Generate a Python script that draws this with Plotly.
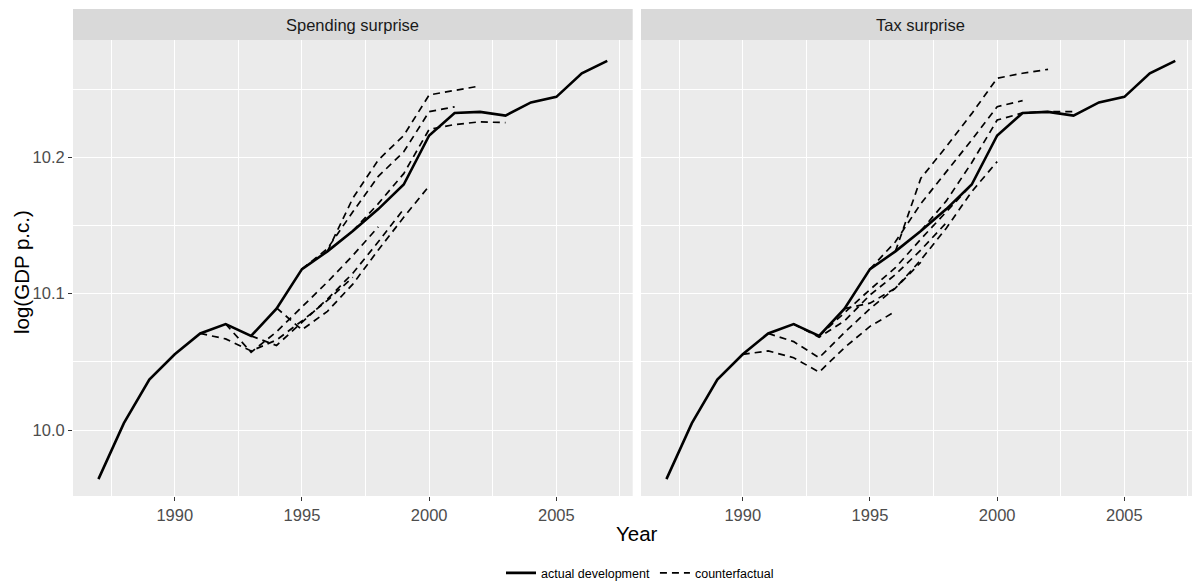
import plotly.graph_objects as go

# ---------------- data ----------------
years_actual = list(range(1987, 2008))
gdp_actual = [9.964, 10.005, 10.037, 10.0555, 10.0708, 10.0777, 10.069, 10.089,
              10.118, 10.131, 10.146, 10.162, 10.180, 10.216, 10.2325, 10.2333,
              10.2306, 10.2402, 10.2443, 10.2615, 10.2707]

# Spending surprise counterfactuals (value per year, starting at the shock year)
spend_cf_1991 = [10.0708, 10.0668, 10.0580, 10.0660, 10.0800, 10.0950, 10.1120]
spend_cf_1992 = [10.0777, 10.0570, 10.0720, 10.0905, 10.1085, 10.1280, 10.1490]
spend_cf_1993 = [10.0690, 10.0620, 10.0790, 10.0960, 10.1150, 10.1380, 10.1620]
spend_cf_1994 = [10.0895, 10.0735, 10.0870, 10.1070, 10.1320, 10.1560, 10.1790]
spend_cf_1995 = [10.1180, 10.1330, 10.1600, 10.1860, 10.2040, 10.2335, 10.2370]
spend_cf_1996 = [10.1310, 10.1700, 10.1980, 10.2160, 10.2457, 10.2490, 10.2523]
spend_cf_1997 = [10.1460, 10.1660, 10.1880, 10.2205, 10.2240, 10.2260, 10.2254]
spend_cf_starts = [1991, 1992, 1993, 1994, 1995, 1996, 1997]
spend_cf = [spend_cf_1991, spend_cf_1992, spend_cf_1993, spend_cf_1994,
            spend_cf_1995, spend_cf_1996, spend_cf_1997]

# Tax surprise counterfactuals
tax_cf_1990 = [10.0555, 10.0580, 10.0530, 10.0424, 10.0604, 10.0760, 10.0870]
tax_cf_1991 = [10.0708, 10.0648, 10.0530, 10.0715, 10.0890, 10.1040, 10.1230]
tax_cf_1992 = [10.0777, 10.0680, 10.0800, 10.0990, 10.1140, 10.1320, 10.1520]
tax_cf_1993 = [10.0690, 10.0860, 10.1030, 10.1190, 10.1400, 10.1600, 10.1800]
tax_cf_1994 = [10.0890, 10.0930, 10.1040, 10.1247, 10.1480, 10.1748, 10.1968]
tax_cf_1995 = [10.1180, 10.1380, 10.1660, 10.1895, 10.2127, 10.2371, 10.2415]
tax_cf_1996 = [10.1310, 10.1846, 10.2078, 10.2320, 10.2580, 10.2616, 10.2645]
tax_cf_1997 = [10.1460, 10.1680, 10.1960, 10.2273, 10.2325, 10.2335, 10.2335]
tax_cf_starts = [1990, 1991, 1992, 1993, 1994, 1995, 1996, 1997]
tax_cf = [tax_cf_1990, tax_cf_1991, tax_cf_1992, tax_cf_1993,
          tax_cf_1994, tax_cf_1995, tax_cf_1996, tax_cf_1997]

panel_titles = ["Spending surprise", "Tax surprise"]
x_ticks = [1990, 1995, 2000, 2005]
x_minor = [1987.5, 1992.5, 1997.5, 2002.5, 2007.5]
y_ticks = [10.0, 10.1, 10.2]
y_ticklabels = ["10.0", "10.1", "10.2"]
y_minor = [10.05, 10.15, 10.25]

# ---------------- figure ----------------
W, H = 1192, 583
FONT = "Liberation Sans, Arial, Helvetica, sans-serif"

fig = go.Figure()
first_cf = True
first_act = True
for i, (starts, cfs) in enumerate([(spend_cf_starts, spend_cf), (tax_cf_starts, tax_cf)]):
    xa = "x" if i == 0 else "x2"
    ya = "y" if i == 0 else "y2"
    for s, vals in zip(starts, cfs):
        fig.add_trace(go.Scatter(
            x=list(range(s, s + len(vals))), y=vals, mode="lines",
            line=dict(color="black", width=1.7, dash="7px,5px"),
            name="counterfactual", legendgroup="cf", showlegend=first_cf,
            xaxis=xa, yaxis=ya, legendrank=2))
        first_cf = False
    fig.add_trace(go.Scatter(
        x=years_actual, y=gdp_actual, mode="lines",
        line=dict(color="black", width=2.6),
        name="actual development", legendgroup="act", showlegend=first_act,
        xaxis=xa, yaxis=ya, legendrank=1))
    first_act = False

L0, L1 = 73.0, 632.7
R0 = 641.0
ppy = (L1 - L0) / 22.0
yt, yb = 40.0, 496.0

common_x = dict(
    tickmode="array", tickvals=x_ticks, ticks="outside", ticklen=4, tickwidth=1.1,
    tickcolor="#333333", tickfont=dict(size=16.5, color="#4D4D4D", family=FONT),
    showgrid=True, gridcolor="white", gridwidth=1.3, zeroline=False, showline=False,
    minor=dict(tickmode="array", tickvals=x_minor, showgrid=True,
               gridcolor="white", gridwidth=0.7),
)
common_y = dict(
    range=[9.9516, 10.2860], domain=[1 - yb / H, 1 - yt / H],
    tickmode="array", tickvals=y_ticks, ticktext=y_ticklabels,
    showgrid=True, gridcolor="white", gridwidth=1.3, zeroline=False, showline=False,
    minor=dict(tickmode="array", tickvals=y_minor, showgrid=True,
               gridcolor="white", gridwidth=0.7),
)

fig.update_layout(
    width=W, height=H,
    margin=dict(l=0, r=0, t=0, b=0, autoexpand=False),
    paper_bgcolor="white", plot_bgcolor="#EBEBEB",
    font=dict(family=FONT, color="black"),
    xaxis=dict(domain=[L0 / W, L1 / W], range=[1986, 2008], anchor="y", **common_x),
    xaxis2=dict(domain=[R0 / W, 1.0], range=[1986, 1986 + (W - R0) / ppy],
                anchor="y2", **common_x),
    yaxis=dict(anchor="x", ticks="outside", ticklen=4, tickwidth=1.1, tickcolor="#333333",
               tickfont=dict(size=16.5, color="#4D4D4D", family=FONT), **common_y),
    yaxis2=dict(anchor="x2", matches="y", showticklabels=False, ticks="", **common_y),
    showlegend=True,
    legend=dict(orientation="h", x=640 / W, xanchor="center", y=-0.009,
                yanchor="bottom", font=dict(size=12.5, family=FONT, color="black"),
                bgcolor="rgba(0,0,0,0)", itemwidth=30, traceorder="normal"),
)

# strips
strip_y0, strip_y1 = 1 - 40 / H, 1 - 9 / H
for (a, b), title, cx in [((L0 / W, L1 / W), panel_titles[0], (L0 + L1) / 2 / W),
                          ((R0 / W, 1.0), panel_titles[1], (R0 + R0 + (L1 - L0)) / 2 / W)]:
    fig.add_shape(type="rect", xref="paper", yref="paper", x0=a, x1=b,
                  y0=strip_y0, y1=strip_y1, fillcolor="#D9D9D9", line=dict(width=0),
                  layer="below")
    fig.add_annotation(text=title, xref="paper", yref="paper", x=cx,
                       y=(strip_y0 + strip_y1) / 2, showarrow=False,
                       xanchor="center", yanchor="middle",
                       font=dict(size=16.5, color="#1A1A1A", family=FONT))

# axis titles
fig.add_annotation(text="Year", xref="paper", yref="paper", x=637 / W, y=1 - 533 / H,
                   showarrow=False, xanchor="center", yanchor="middle",
                   font=dict(size=20.5, color="black", family=FONT))
fig.add_annotation(text="log(GDP p.c.)", xref="paper", yref="paper", x=21 / W,
                   y=1 - 272 / H, showarrow=False, textangle=-90,
                   xanchor="center", yanchor="middle",
                   font=dict(size=20.5, color="black", family=FONT))

fig.write_html("out.html")
